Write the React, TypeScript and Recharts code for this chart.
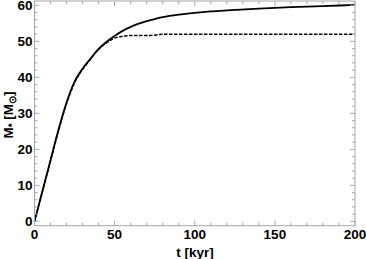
import { LineChart, Line, XAxis, YAxis } from "recharts"

const times = [0, 5, 10, 15, 20, 25, 30, 35, 40, 45, 50, 55, 60, 65, 70, 75, 80, 90, 100, 110, 120, 140, 160, 180, 200]
const massSolid = [0, 8.5, 17, 25.5, 33, 38.8, 42.4, 45.2, 47.9, 49.9, 51.5, 52.9, 54, 54.9, 55.6, 56.2, 56.7, 57.4, 57.9, 58.3, 58.6, 59.1, 59.5, 59.8, 60.1]
const massDashed = [0, 8.4, 16.8, 25.2, 32.7, 38.5, 42.2, 45.1, 47.8, 49.6, 50.9, 51.4, 51.6, 51.6, 51.6, 51.7, 52, 52, 52, 52, 52, 52, 52, 52, 52]
const xTicks = [0, 10, 20, 30, 40, 50, 60, 70, 80, 90, 100, 110, 120, 130, 140, 150, 160, 170, 180, 190, 200]
const yTicks = [0, 2, 4, 6, 8, 10, 12, 14, 16, 18, 20, 22, 24, 26, 28, 30, 32, 34, 36, 38, 40, 42, 44, 46, 48, 50, 52, 54, 56, 58, 60]

const data = times.map((t, i) => ({ t, solid: massSolid[i], dashed: massDashed[i] }))

const FRAME = "#a6a6a6"
const FONT = "'Liberation Sans', Arial, sans-serif"

function BottomTick({ x, y, payload }: any) {
  const major = payload.value % 50 === 0
  return (
    <g>
      <line x1={x} y1={y} x2={x} y2={y - (major ? 5 : 3)} stroke={FRAME} />
      {major && (
        <text x={x} y={y + 13.6} textAnchor="middle" fontSize={13.5} fontWeight="bold" fontFamily={FONT} fill="#000">
          {payload.value}
        </text>
      )}
    </g>
  )
}

function TopTick({ x, y, payload }: any) {
  const major = payload.value % 50 === 0
  return <line x1={x} y1={y} x2={x} y2={y + (major ? 5 : 3)} stroke={FRAME} />
}

function LeftTick({ x, y, payload }: any) {
  const major = payload.value % 10 === 0
  return (
    <g>
      <line x1={x} y1={y} x2={x + (major ? 5 : 3)} y2={y} stroke={FRAME} />
      {major && (
        <text x={x - 2} y={y + 4.8} textAnchor="end" fontSize={13.5} fontWeight="bold" fontFamily={FONT} fill="#000">
          {payload.value}
        </text>
      )}
    </g>
  )
}

function RightTick({ x, y, payload }: any) {
  const major = payload.value % 10 === 0
  return <line x1={x} y1={y} x2={x - (major ? 5 : 3)} y2={y} stroke={FRAME} />
}

export default function App() {
  return (
    <div style={{ position: "absolute", left: 0, top: 0, width: 366, height: 259, background: "#fff" }}>
      <LineChart width={366} height={259} data={data} margin={{ top: 0, right: 0, bottom: 0, left: 0 }}>
        <XAxis
          xAxisId="b"
          dataKey="t"
          type="number"
          domain={[0, 200]}
          ticks={xTicks}
          height={33.3}
          tickSize={0}
          tickMargin={0}
          tick={<BottomTick />}
          axisLine={{ stroke: FRAME }}
          interval={0}
        />
        <XAxis
          xAxisId="t"
          orientation="top"
          dataKey="t"
          type="number"
          domain={[0, 200]}
          ticks={xTicks}
          height={1}
          tickSize={0}
          tickMargin={0}
          tick={<TopTick />}
          axisLine={{ stroke: FRAME }}
          interval={0}
        />
        <YAxis
          yAxisId="l"
          type="number"
          domain={[-1.2, 61.2]}
          ticks={yTicks}
          width={34.5}
          tickSize={0}
          tickMargin={0}
          tick={<LeftTick />}
          axisLine={{ stroke: FRAME }}
          interval={0}
          allowDataOverflow
        />
        <YAxis
          yAxisId="r"
          orientation="right"
          type="number"
          domain={[-1.2, 61.2]}
          ticks={yTicks}
          width={11}
          tickSize={0}
          tickMargin={0}
          tick={<RightTick />}
          axisLine={{ stroke: FRAME }}
          interval={0}
          allowDataOverflow
        />
        <Line
          xAxisId="b"
          yAxisId="l"
          type="monotone"
          dataKey="dashed"
          stroke="#000"
          strokeWidth={1.5}
          strokeDasharray="3.5 1.5"
          dot={false}
          isAnimationActive={false}
        />
        <Line
          xAxisId="b"
          yAxisId="l"
          type="monotone"
          dataKey="solid"
          stroke="#000"
          strokeWidth={1.8}
          dot={false}
          isAnimationActive={false}
        />
        <text x={195} y={257} textAnchor="middle" fontSize={13.5} fontWeight="bold" fontFamily={FONT} fill="#000">
          t [kyr]
        </text>
        <text
          x={13}
          y={115}
          textAnchor="middle"
          transform="rotate(-90, 13, 115)"
          fontSize={13.5}
          fontWeight="bold"
          fontFamily={FONT}
          fill="#000"
        >
          M<tspan fontSize={10} dy={3}>*</tspan>
          <tspan dy={-3}> [M</tspan>
          <tspan fontSize={10} dy={3}>⊙</tspan>
          <tspan dy={-3}>]</tspan>
        </text>
      </LineChart>
    </div>
  )
}
